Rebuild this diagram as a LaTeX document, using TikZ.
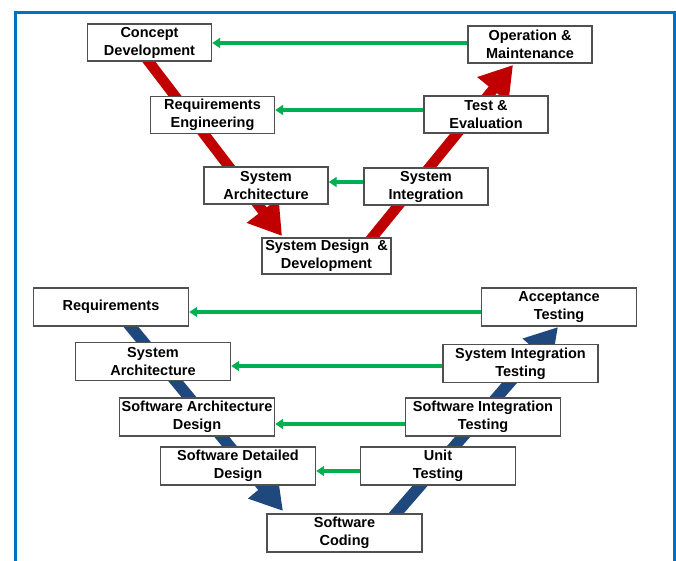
\documentclass[tikz,border=0pt]{standalone}
\usepackage{fontspec}
\setmainfont{Liberation Sans}
\usetikzlibrary{arrows.meta}
\definecolor{vred}{HTML}{C00000}
\definecolor{vblue}{HTML}{1F497D}
\definecolor{vgreen}{HTML}{00B050}
\definecolor{framec}{HTML}{0070C0}
\definecolor{boxgray}{HTML}{505050}
\tikzset{
  vbox/.style={draw=boxgray, line width=1.4pt, fill=white, inner sep=0pt,
    align=center, font=\fontsize{14.5}{18}\selectfont\bfseries},
  topbox/.style={vbox, minimum width=124pt, minimum height=37pt},
  botbox/.style={vbox, minimum width=155pt, minimum height=38pt},
  redarrow/.style={draw=vred, line width=10.5pt, -{Triangle[length=32pt,width=38pt]}},
  bluearrow/.style={draw=vblue, line width=11.5pt, -{Triangle[length=32pt,width=36pt]}},
  garrow/.style={draw=vgreen, line width=3.2pt, -{Triangle[length=8pt,width=10pt]}},
}
\begin{document}
\begin{tikzpicture}[x=1pt,y=-1pt]
\useasboundingbox (0,0) rectangle (676,560);
\fill[white] (0,0) rectangle (676,560);
% frame
\draw[framec, line width=3pt] (15,561) -- (15,12.5) -- (674.5,12.5) -- (674.5,561);

% V arrow end points
\coordinate (r1s) at (136,45);
\coordinate (r1e) at (282,236);
\coordinate (r2s) at (362,250);
\coordinate (r2e) at (513,65);
\coordinate (b1s) at (117,310);
\coordinate (b1e) at (283,511);
\coordinate (b2s) at (386,525);
\coordinate (b2e) at (558,327);

\draw[redarrow] (r1s) -- (r1e);
\draw[redarrow] (r2s) -- (r2e);
\draw[bluearrow] (b1s) -- (b1e);
\draw[bluearrow] (b2s) -- (b2e);

% top V
\node[topbox] (cd) at (149.5,42.5) {Concept\\Development};
\node[topbox] (om) at (530,44.5) {Operation \&\\Maintenance};
\node[topbox] (re) at (212.5,115) {Requirements\\Engineering};
\node[topbox] (te) at (486,114.5) {Test \&\\Evaluation};
\node[topbox] (sa) at (266,185.5) {System\\Architecture};
\node[topbox] (si) at (426,186.5) {System\\Integration};
\node[topbox, minimum width=129pt, minimum height=36pt] (sdd) at (326.5,256) {System Design\ \ \&\\Development};

% bottom V
\node[botbox] (req) at (111,307) {Requirements};
\node[botbox] (at) at (559,307) {Acceptance\\Testing};
\node[botbox] (sa2) at (153,361.5) {System\\Architecture};
\node[botbox] (sit) at (520.5,363.5) {System Integration\\Testing};
\node[botbox] (sad) at (197,417) {Software Architecture\\Design};
\node[botbox] (swit) at (483,417) {Software Integration\\Testing};
\node[botbox] (sdd2) at (238,466) {Software Detailed\\Design};
\node[botbox] (ut) at (438,466) {Unit\\Testing};
\node[botbox] (sc) at (344.5,533) {Software\\Coding};

% green arrows
\draw[garrow] ([yshift=1.5pt]om.west) -- ([yshift=1.5pt]om.west -| cd.east);
\draw[garrow] ([yshift=4.5pt]te.west) -- ([yshift=4.5pt]te.west -| re.east);
\draw[garrow] ([yshift=4.5pt]si.west) -- ([yshift=4.5pt]si.west -| sa.east);
\draw[garrow] ([yshift=-5pt]at.west) -- ([yshift=-5pt]at.west -| req.east);
\draw[garrow] ([yshift=-2.5pt]sit.west) -- ([yshift=-2.5pt]sit.west -| sa2.east);
\draw[garrow] ([yshift=-7pt]swit.west) -- ([yshift=-7pt]swit.west -| sad.east);
\draw[garrow] ([yshift=-5pt]ut.west) -- ([yshift=-5pt]ut.west -| sdd2.east);
\end{tikzpicture}
\end{document}
